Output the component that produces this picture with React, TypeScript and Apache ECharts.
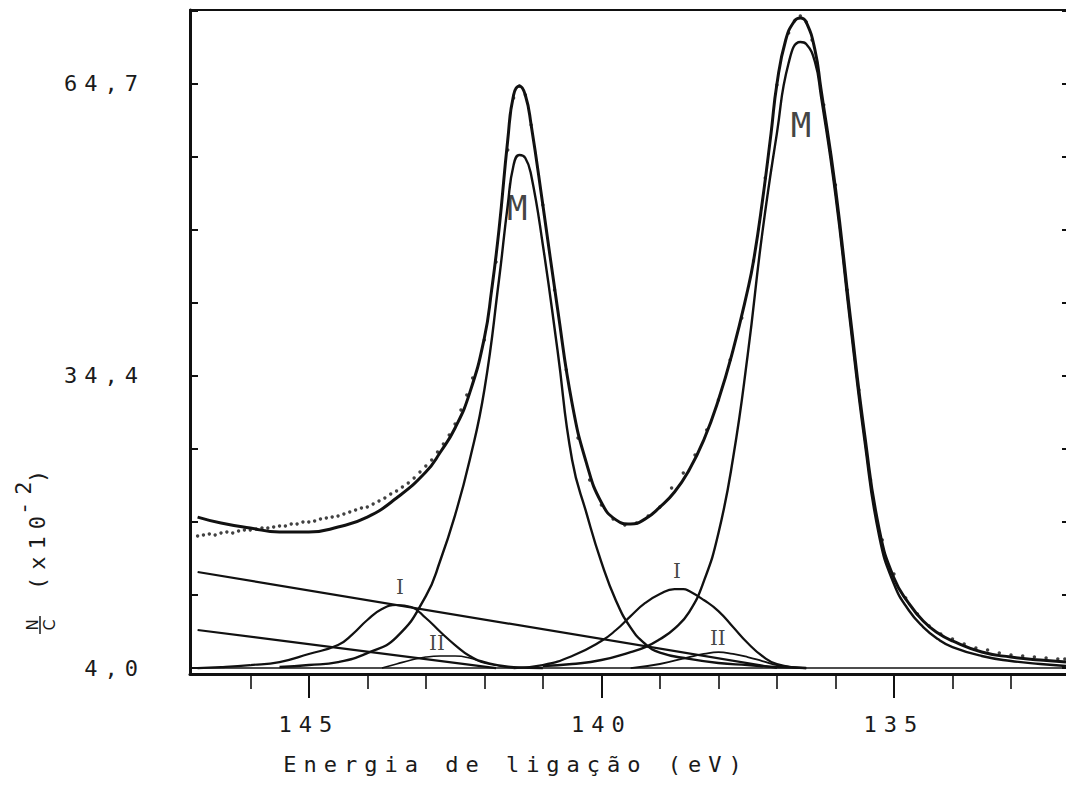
import React, { useEffect, useRef } from "react";
import * as echarts from "echarts";

// ---- axis ranges / ticks ----
const X_MIN = 132.06;
const X_MAX = 147.03;
const Y_MIN = 3.38;
const Y_MAX = 72.39;

const xMajorTicks = [135, 140, 145];
const xMinorTicks = [133, 134, 136, 137, 138, 139, 141, 142, 143, 144, 146];
const yTicks = [4.0, 11.5875, 19.175, 26.7625, 34.35, 41.9375, 49.525, 57.1125, 64.7, 72.2875];
const yLabels = [4.0, 34.4, 64.7];

// ---- experimental points [eV, N/C] ----
const experimental = [
  [146.9, 17.72], [146.8, 17.82], [146.7, 17.93], [146.6, 17.82], [146.5, 18.03], [146.4, 18.14],
  [146.3, 18.03], [146.2, 18.24], [146.1, 18.34], [146.0, 18.34], [145.9, 18.45], [145.8, 18.55],
  [145.7, 18.55], [145.6, 18.66], [145.5, 18.76], [145.4, 18.76], [145.3, 18.97], [145.2, 18.97],
  [145.1, 19.18], [145.0, 19.18], [144.9, 19.28], [144.8, 19.49], [144.7, 19.59], [144.6, 19.69],
  [144.5, 19.8], [144.4, 20.01], [144.3, 20.21], [144.2, 20.42], [144.1, 20.63], [144.0, 20.73],
  [143.9, 21.05], [143.8, 21.36], [143.7, 21.67], [143.6, 22.09], [143.5, 22.4], [143.4, 22.81],
  [143.3, 23.23], [143.2, 23.75], [143.1, 24.37], [143.0, 24.99], [142.9, 25.62], [142.8, 26.45],
  [142.7, 27.28], [142.6, 28.22], [142.5, 29.36], [142.4, 30.82], [142.3, 32.38], [142.2, 34.14],
  [142.0, 38.09], [141.8, 46.2], [141.6, 57.84], [141.5, 63.25], [141.4, 64.49], [141.3, 63.56],
  [141.2, 60.44], [141.0, 52.12], [140.8, 43.29], [140.6, 34.97], [140.4, 27.91], [140.2, 23.54],
  [140.0, 20.94], [139.8, 19.49], [139.6, 18.86], [139.4, 19.07], [139.2, 19.8], [139.0, 20.73],
  [138.8, 22.71], [138.6, 24.27], [138.4, 26.14], [138.2, 28.74], [138.0, 31.86], [137.8, 36.01],
  [137.6, 40.38], [137.4, 46.3], [137.2, 54.93], [137.0, 64.6], [136.8, 70.0], [136.7, 71.25],
  [136.6, 71.77], [136.5, 71.14], [136.4, 69.27], [136.2, 62.52], [136.0, 54.2], [135.8, 43.29],
  [135.6, 32.9], [135.4, 23.54], [135.2, 17.3], [135.0, 13.77], [134.8, 11.28], [134.6, 9.61],
  [134.4, 8.37], [134.2, 7.53], [134.0, 7.01], [133.8, 6.49], [133.6, 6.08], [133.4, 5.87],
  [133.2, 5.56], [133.0, 5.35], [132.8, 5.25], [132.6, 5.14], [132.4, 5.04], [132.2, 4.94],
  [132.08, 4.94],
];

// ---- fitted envelope ----
const envelope = [
  [146.9, 19.69], [146.5, 19.07], [146.0, 18.55], [145.5, 18.14], [145.0, 18.14], [144.5, 18.66],
  [144.0, 19.69], [143.5, 21.67], [143.0, 24.37], [142.75, 26.45], [142.5, 28.95], [142.25, 32.6],
  [142.0, 38.3], [141.875, 43.3], [141.75, 49.53], [141.6, 58.88], [141.5, 63.56], [141.4, 64.49],
  [141.3, 63.56], [141.2, 60.44], [141.0, 52.12], [140.75, 41.4], [140.5, 31.5], [140.25, 25.2],
  [140.0, 21.2], [139.75, 19.4], [139.5, 18.97], [139.25, 19.5], [139.0, 20.73], [138.75, 22.29],
  [138.5, 24.58], [138.25, 27.7], [138.0, 31.86], [137.75, 37.05], [137.5, 43.29], [137.4, 46.3],
  [137.25, 52.44], [137.1, 59.6], [137.0, 64.7], [136.85, 69.27], [136.7, 71.25], [136.6, 71.56],
  [136.5, 71.14], [136.35, 68.23], [136.25, 64.29], [136.0, 53.89], [135.75, 40.69], [135.5, 28.22],
  [135.25, 18.34], [135.0, 13.35], [134.75, 10.76], [134.5, 8.89], [134.25, 7.64], [134.0, 6.81],
  [133.5, 5.66], [133.0, 5.14], [132.5, 4.83], [132.06, 4.62],
];

// ---- components ----
const mLeft = [
  [145.5, 4.1], [145.0, 4.31], [144.5, 4.62], [144.0, 5.56], [143.5, 7.22], [143.0, 11.48],
  [142.75, 15.23], [142.5, 19.9], [142.25, 25.62], [142.0, 32.9], [141.75, 44.33], [141.6, 52.12],
  [141.5, 56.28], [141.4, 57.32], [141.3, 57.01], [141.2, 55.24], [141.0, 47.97], [140.75, 37.05],
  [140.5, 25.62], [140.25, 20.0], [140.0, 15.0], [139.75, 11.0], [139.5, 8.2], [139.25, 6.5],
  [139.0, 5.6], [138.5, 4.95], [138.0, 4.52], [137.5, 4.31], [137.0, 4.1], [136.5, 4.0],
];
const mRight = [
  [141.0, 4.21], [140.5, 4.42], [140.0, 4.83], [139.5, 5.66], [139.25, 6.18], [139.0, 7.0],
  [138.75, 8.1], [138.5, 9.82], [138.25, 13.0], [138.0, 18.0], [137.75, 25.8], [137.5, 36.53],
  [137.25, 49.21], [137.0, 59.6], [136.8, 66.88], [136.6, 69.07], [136.5, 68.86], [136.35, 66.99],
  [136.25, 63.56], [136.0, 53.16], [135.75, 39.96], [135.5, 27.49], [135.25, 17.62], [135.0, 12.73],
  [134.75, 10.03], [134.5, 8.26], [134.25, 7.01], [134.0, 6.18], [133.5, 5.25], [133.0, 4.73],
  [132.5, 4.42], [132.06, 4.21],
];
const iLeft = [
  [146.9, 4.0], [146.5, 4.1], [146.0, 4.31], [145.5, 4.62], [145.0, 5.46], [144.5, 6.39],
  [144.25, 7.53], [144.0, 8.99], [143.75, 10.13], [143.5, 10.55], [143.25, 10.34], [143.0, 9.2],
  [142.75, 7.74], [142.5, 6.39], [142.25, 5.25], [142.0, 4.62], [141.5, 4.1], [141.0, 4.0],
];
const iRight = [
  [141.5, 4.0], [141.0, 4.31], [140.5, 5.25], [140.0, 6.81], [139.75, 7.95], [139.5, 9.4],
  [139.25, 10.76], [139.0, 11.69], [138.75, 12.21], [138.6, 12.21], [138.5, 12.0], [138.25, 11.07],
  [138.0, 9.92], [137.75, 8.26], [137.5, 6.6], [137.25, 5.25], [137.0, 4.42], [136.5, 4.0],
];
const iiLeft = [
  [143.75, 4.0], [143.5, 4.42], [143.25, 4.83], [143.0, 5.14], [142.75, 5.25], [142.5, 5.25],
  [142.25, 5.04], [142.0, 4.52], [141.75, 4.21], [141.5, 4.0],
];
const iiRight = [
  [139.5, 4.0], [139.0, 4.42], [138.5, 5.14], [138.25, 5.46], [138.0, 5.66], [137.75, 5.46],
  [137.5, 5.14], [137.25, 4.73], [137.0, 4.31], [136.5, 4.0],
];
const backgroundA = [[146.9, 13.98], [137.0, 4.0]];
const backgroundB = [[146.9, 7.95], [141.8, 4.0]];
const baseline = [[146.9, 4.0], [132.06, 4.0]];

// ---- peak annotations ----
const peakLabels = [
  { name: "M", value: [141.44, 51.8], serif: false },
  { name: "M", value: [136.59, 60.44], serif: false },
  { name: "I", value: [143.44, 12.42], serif: true },
  { name: "I", value: [138.71, 14.08], serif: true },
  { name: "II", value: [142.81, 6.6], serif: true },
  { name: "II", value: [138.01, 7.12], serif: true },
];

const INK = "#111111";
const MONO = "'DejaVu Sans Mono', monospace";

export default function App() {
  const ref = useRef<HTMLDivElement>(null);

  useEffect(() => {
    if (!ref.current) return;
    const chart = echarts.init(ref.current, undefined, { renderer: "svg" });

    const line = (data: number[][], width: number) => ({
      type: "line",
      data,
      showSymbol: false,
      symbol: "none",
      smooth: 0.5,
      lineStyle: { color: INK, width },
      silent: true,
      z: 3,
    });

    chart.setOption({
      animation: false,
      backgroundColor: "#ffffff",
      grid: { left: 190, right: 0, top: 10, bottom: 125, containLabel: false },
      xAxis: [
        {
          type: "value",
          min: X_MIN,
          max: X_MAX,
          inverse: true,
          position: "bottom",
          axisLine: { show: true, onZero: false, lineStyle: { color: INK, width: 3 } },
          axisTick: { show: true, customValues: xMajorTicks, length: 24, lineStyle: { color: INK, width: 2 } },
          axisLabel: {
            show: true,
            customValues: xMajorTicks,
            margin: 39,
            fontFamily: MONO,
            fontSize: 22,
            color: "#1a1a1a",
          },
          splitLine: { show: false },
        },
        {
          type: "value",
          min: X_MIN,
          max: X_MAX,
          inverse: true,
          position: "bottom",
          axisLine: { show: false, onZero: false },
          axisTick: { show: true, customValues: xMinorTicks, length: 15, lineStyle: { color: INK, width: 1.6 } },
          axisLabel: { show: false },
          splitLine: { show: false },
        },
        {
          type: "value",
          min: X_MIN,
          max: X_MAX,
          inverse: true,
          position: "top",
          axisLine: { show: true, onZero: false, lineStyle: { color: INK, width: 2 } },
          axisTick: { show: false },
          axisLabel: { show: false },
          splitLine: { show: false },
        },
      ],
      yAxis: [
        {
          type: "value",
          min: Y_MIN,
          max: Y_MAX,
          position: "left",
          axisLine: { show: true, onZero: false, lineStyle: { color: INK, width: 3 } },
          axisTick: { show: true, inside: true, customValues: yTicks, length: 8, lineStyle: { color: INK, width: 2 } },
          axisLabel: {
            show: true,
            customValues: yLabels,
            margin: 45,
            fontFamily: MONO,
            fontSize: 22,
            color: "#1a1a1a",
            formatter: (v: number) => v.toFixed(1).replace(".", ","),
          },
          splitLine: { show: false },
        },
        {
          type: "value",
          min: Y_MIN,
          max: Y_MAX,
          position: "right",
          axisLine: { show: false, onZero: false },
          axisTick: { show: true, inside: true, customValues: yTicks, length: 4, lineStyle: { color: INK, width: 2 } },
          axisLabel: { show: false },
          splitLine: { show: false },
        },
      ],
      series: [
        { ...line(baseline, 1.4), z: 2 },
        line(backgroundA, 2.2),
        line(backgroundB, 2.2),
        line(iiLeft, 1.6),
        line(iiRight, 1.8),
        line(iLeft, 2.2),
        line(iRight, 2.2),
        line(mLeft, 2.4),
        line(mRight, 2.4),
        { ...line(envelope, 3), z: 4 },
        {
          type: "scatter",
          data: experimental,
          symbol: "circle",
          symbolSize: 3.4,
          itemStyle: { color: INK },
          silent: true,
          z: 5,
        },
        {
          type: "scatter",
          data: peakLabels.map((p) => ({
            name: p.name,
            value: p.value,
            label: p.serif
              ? { fontFamily: "'DejaVu Serif', serif", fontSize: 20, offset: [0, 0] }
              : { fontFamily: MONO, fontSize: 34, offset: [3.5, 0] },
          })),
          symbolSize: 1,
          itemStyle: { color: "rgba(0,0,0,0)" },
          label: {
            show: true,
            position: "inside",
            formatter: "{b}",
            color: INK,
          },
          silent: true,
          z: 6,
        },
      ],
      graphic: [
        {
          type: "text",
          x: 516,
          y: 764,
          style: {
            text: "Energia de ligação (eV)",
            font: "22px 'DejaVu Sans Mono', monospace",
            fill: "#1a1a1a",
            align: "center",
            verticalAlign: "middle",
          },
        },
        {
          type: "group",
          x: 45,
          y: 640,
          rotation: Math.PI / 2,
          children: [
            {
              type: "text",
              x: 15,
              y: -12,
              style: { text: "N", font: "15px 'DejaVu Sans', sans-serif", fill: "#1a1a1a", align: "center", verticalAlign: "middle" },
            },
            {
              type: "line",
              shape: { x1: 6, y1: -5, x2: 24, y2: -5 },
              style: { stroke: "#1a1a1a", lineWidth: 1.5 },
            },
            {
              type: "text",
              x: 15,
              y: 4,
              style: { text: "C", font: "16px 'DejaVu Sans', sans-serif", fill: "#1a1a1a", align: "center", verticalAlign: "middle" },
            },
            {
              type: "text",
              x: 50,
              y: -7.5,
              style: { text: "(x10", font: "22px 'DejaVu Sans Mono', monospace", fill: "#1a1a1a", align: "left", verticalAlign: "middle" },
            },
            {
              type: "text",
              x: 125,
              y: -22,
              style: { text: "-2", font: "22px 'DejaVu Sans Mono', monospace", fill: "#1a1a1a", align: "left", verticalAlign: "middle" },
            },
            {
              type: "text",
              x: 157,
              y: -7.5,
              style: { text: ")", font: "22px 'DejaVu Sans Mono', monospace", fill: "#1a1a1a", align: "left", verticalAlign: "middle" },
            },
          ],
        },
      ],
    });

    return () => {
      chart.dispose();
    };
  }, []);

  return (
    <div style={{ position: "fixed", left: 0, top: 0, width: 1066, height: 799, background: "#fff" }}>
      <style>{`.xps-chart text[style*="Mono"], .xps-chart text[font-family*="Mono"] { letter-spacing: 7px; }`}</style>
      <div ref={ref} className="xps-chart" style={{ width: 1066, height: 799 }} />
    </div>
  );
}
